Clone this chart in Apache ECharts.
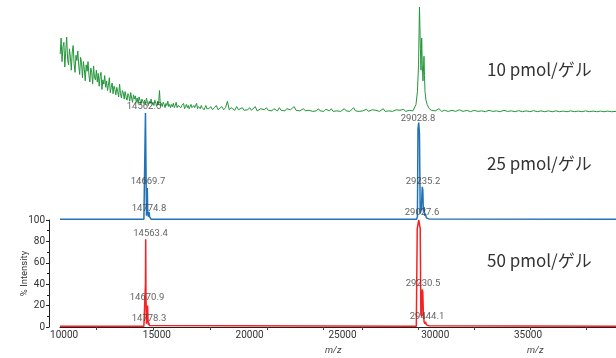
<!DOCTYPE html>
<html>
<head>
<meta charset="utf-8">
<script src="https://cdn.jsdelivr.net/npm/echarts@6.0.0/dist/echarts.min.js"></script>
<style>
  html, body { margin: 0; padding: 0; background: #fff; }
  #main { width: 616px; height: 358px; }
</style>
</head>
<body>
<div id="main"></div>
<script>
// x range (m/z) shared by all three traces
const mzMin = 9780;
const mzMax = 39740;
const xLabelValues = [10000, 15000, 20000, 25000, 30000, 35000];
const xTickValues = [11760, 14800, 17870, 20940, 23960, 26060, 29070, 32090, 35110, 38130];

// 10 pmol (green): noisy head sampled every 50 Da from 9790
const greenHeadAStart = 9790;
const greenHeadAStep = 50;
const greenHeadA = [
  55, 70, 48, 62, 66, 43, 58, 71, 50, 45,
  60, 52, 40, 57, 63, 46, 38, 54, 49, 58,
  44, 36, 52, 47, 33, 48, 41, 30, 45, 39,
  48, 35, 29, 42, 38, 27, 44, 33, 31, 40,
  29, 37, 25, 34, 38, 22, 31, 27, 35, 24,
  30, 21, 26, 33, 19, 24, 28, 18, 25, 22,
  17, 24, 20, 15, 27, 18, 14, 21, 19, 13,
  20, 15, 12, 18, 16, 11, 19, 14, 10, 17,
  13, 16, 10, 14, 9, 15, 12, 8, 13, 11,
  9, 12, 8, 14, 10, 7, 11, 9, 13, 8,
  10, 7, 12, 9, 6, 11, 8, 21, 7, 9,
  6, 10, 8, 5, 9, 7, 11, 6, 8, 5,
  8, 6, 9, 5, 7, 10, 5, 7, 6, 8,
  5, 7, 6, 9, 4, 6, 8, 5, 7, 4,
  6, 8, 5, 4, 7, 5, 6, 9, 4, 6,
  5, 4, 7, 5, 6, 3, 5, 7, 4, 5
];
// then every 100 Da from 17800
const greenHeadBStart = 17800;
const greenHeadBStep = 100;
const greenHeadB = [
  4, 6, 3, 5, 7, 3, 4, 6, 3, 5,
  11, 3, 5, 4, 2.5, 6, 3, 4, 5, 2.5,
  4, 3, 5, 2.5, 4, 6, 2, 3.5, 4, 2.5,
  3, 5, 2.5, 3.5, 2, 4, 3, 2, 5, 2.5,
  3.5, 2, 4, 2.5, 3, 2, 6, 2.5, 3, 2,
  2.5, 4, 2, 3, 2.5, 3.5, 1.5, 3, 2, 4,
  2, 3, 1.5, 3.5, 2.5, 2, 4, 1.5, 3, 2,
  3, 1.5, 2.5, 4, 2, 3, 1.5, 2.5, 5, 2,
  2.5, 1.5, 3, 2, 2.5, 3.5, 1.5, 2, 3, 1.5,
  2.5, 3, 1.5, 2, 4, 1.5, 2.5, 2, 3, 1.5,
  2, 3, 1.5, 2.5, 2, 3.5, 1.5, 2, 2.5, 1.5,
  2
];
const greenPeak = [
  [28855, 2], [28963, 8], [29040, 20], [29100, 45], [29150, 99], [29200, 60],
  [29232, 40], [29270, 70], [29300, 45], [29340, 30], [29394, 53], [29420, 35],
  [29448, 20], [29502, 12], [29560, 8], [29610, 9], [29680, 4], [29718, 3],
  [29800, 2.5], [29900, 1.5], [30000, 2], [30200, 4], [30350, 1.5], [30500, 2.5],
  [30700, 1.5], [30900, 2.5], [31100, 1.5], [31300, 3], [31500, 1.5], [31700, 2.5],
  [31900, 1.2], [32100, 2.5], [32300, 1.5], [32500, 2], [32700, 1.2], [32900, 2.5],
  [33100, 1.5], [33300, 2], [33500, 1.2], [33700, 2.5], [33900, 1.5], [34100, 2],
  [34300, 1.2], [34500, 2.2], [34700, 1.2], [34900, 2], [35100, 1.2], [35300, 2.2],
  [35500, 1.2], [35700, 2], [35900, 1.2], [36100, 2], [36300, 1.2], [36500, 2],
  [36700, 1.2], [36900, 1.8], [37100, 1.2], [37300, 2], [37500, 1.2], [37700, 1.8],
  [37900, 1.2], [38100, 2], [38300, 1.2], [38500, 1.8], [38700, 1.2], [38900, 1.8],
  [39100, 1.2], [39300, 1.8], [39500, 1.2], [39740, 1.5]
];

// 25 pmol (blue)
const blueTrace = [
  [9780, 0.6], [14300, 0.6], [14360, 1], [14385, 100], [14420, 100], [14440, 4],
  [14460, 8], [14484, 30], [14505, 10], [14540, 3], [14580, 7.5], [14610, 3],
  [14650, 1.5], [14700, 0.6], [28990, 0.6], [29040, 3], [29070, 85], [29110, 91],
  [29150, 80], [29190, 6], [29250, 10], [29300, 31], [29330, 28], [29360, 8],
  [29400, 12], [29430, 4], [29470, 6], [29520, 2], [29580, 3], [29650, 1],
  [29750, 0.6], [39740, 0.6]
];
const blueLabels = ['14562.5', '14669.7', '14774.8', '29028.8', '29235.2', '29027.6'];
const blueLabelMz = [14306, 14522, 14576, 29071, 29340, 29286];
const blueLabelPct = [105.6, 36, 11, 95, 35.5, 6.5];

// 50 pmol (red)
const redTrace = [
  [9780, 0.8], [14300, 0.8], [14360, 1.5], [14385, 40], [14398, 82], [14412, 30],
  [14440, 3], [14470, 6], [14500, 20], [14520, 8], [14550, 2], [14570, 4],
  [14590, 1.5], [14650, 0.8], [28980, 0.8], [28995, 1], [29030, 92], [29110, 100],
  [29190, 92], [29225, 12], [29260, 10], [29300, 35], [29330, 33], [29360, 12],
  [29400, 5], [29440, 3], [29480, 5], [29520, 2], [29580, 3], [29650, 1.2],
  [29750, 0.8], [39740, 0.8]
];
const redLabels = ['14563.4', '14670.9', '14778.3', '29230.5', '29444.1'];
const redLabelMz = [14657, 14468, 14576, 29340, 29555];
const redLabelPct = [87, 27, 7.5, 41, 10];

const traceNames = ['10 pmol/ゲル', '25 pmol/ゲル', '50 pmol/ゲル'];

const greenData = greenHeadA.map((v, i) => [greenHeadAStart + greenHeadAStep * i, v])
  .concat(greenHeadB.map((v, i) => [greenHeadBStart + greenHeadBStep * i, v]))
  .concat(greenPeak);

function labelData(texts, mz, pct) {
  return texts.map((t, i) => [mz[i], pct[i], t]);
}

const chart = echarts.init(document.getElementById('main'), null, { renderer: 'canvas' });

const hiddenX = (i) => ({
  type: 'value', gridIndex: i, min: mzMin, max: mzMax, show: false
});
const hiddenY = (i) => ({
  type: 'value', gridIndex: i, min: 0, max: 100, show: false
});

const labelSeries = (data, idx) => ({
  type: 'scatter',
  xAxisIndex: idx,
  yAxisIndex: idx,
  data: data,
  symbolSize: 1,
  clip: false,
  z: 10,
  itemStyle: { color: 'rgba(0,0,0,0)' },
  label: {
    show: true,
    position: 'inside',
    formatter: p => p.value[2],
    fontSize: 9.5,
    fontFamily: 'Roboto',
    color: '#3a3a3a'
  }
});

const option = {
  animation: false,
  backgroundColor: '#fff',
  grid: [
    { left: 60, right: 0, top: 6, height: 107 },
    { left: 60, right: 0, top: 113, height: 107 },
    { left: 60, right: 0, top: 220, height: 107 }
  ],
  xAxis: [
    hiddenX(0),
    hiddenX(1),
    {
      type: 'value', gridIndex: 2, min: mzMin, max: mzMax,
      axisLine: { show: true, lineStyle: { color: '#222', width: 1 } },
      axisTick: { show: true, length: 3, customValues: xTickValues, lineStyle: { color: '#444' } },
      axisLabel: {
        customValues: xLabelValues, fontSize: 10, margin: 3,
        color: '#333', fontFamily: 'Roboto',
        formatter: v => String(v)
      },
      splitLine: { show: false }
    }
  ],
  yAxis: [
    hiddenY(0),
    hiddenY(1),
    {
      type: 'value', gridIndex: 2, min: 0, max: 100, interval: 20,
      offset: 11,
      axisLine: { show: true, lineStyle: { color: '#222', width: 1 } },
      axisTick: { show: true, length: 3, lineStyle: { color: '#222' } },
      minorTick: { show: true, splitNumber: 2, length: 2, lineStyle: { color: '#222' } },
      axisLabel: { fontSize: 10, margin: 4, color: '#333', fontFamily: 'Roboto' },
      splitLine: { show: false },
      name: '% Intensity',
      nameLocation: 'middle',
      nameGap: 19,
      nameMoveOverlap: false,
      nameTextStyle: { fontSize: 9.5, color: '#333', fontFamily: 'Roboto' }
    }
  ],
  graphic: [
    { type: 'text', left: 487, top: 61, style: { text: traceNames[0], font: '17px "Noto Sans CJK JP"', fill: '#333' } },
    { type: 'text', left: 487, top: 155, style: { text: traceNames[1], font: '17px "Noto Sans CJK JP"', fill: '#333' } },
    { type: 'text', left: 487, top: 252, style: { text: traceNames[2], font: '17px "Noto Sans CJK JP"', fill: '#333' } },
    { type: 'text', left: 325, top: 346, style: { text: 'm/z', font: 'italic 9.5px Roboto', fill: '#444' } },
    { type: 'text', left: 527, top: 346, style: { text: 'm/z', font: 'italic 9.5px Roboto', fill: '#444' } }
  ],
  series: [
    {
      name: traceNames[0], type: 'line', xAxisIndex: 0, yAxisIndex: 0,
      data: greenData, showSymbol: false, symbol: 'none',
      lineStyle: { color: '#23963a', width: 1 }
    },
    {
      name: traceNames[2], type: 'line', xAxisIndex: 2, yAxisIndex: 2,
      data: redTrace, showSymbol: false, symbol: 'none',
      lineStyle: { color: '#f42222', width: 1.5 }
    },
    {
      name: traceNames[1], type: 'line', xAxisIndex: 1, yAxisIndex: 1,
      data: blueTrace, showSymbol: false, symbol: 'none', z: 3,
      lineStyle: { color: '#2273b5', width: 1.5 }
    },
    labelSeries(labelData(blueLabels, blueLabelMz, blueLabelPct), 1),
    labelSeries(labelData(redLabels, redLabelMz, redLabelPct), 2)
  ]
};

chart.setOption(option);
</script>
</body>
</html>
